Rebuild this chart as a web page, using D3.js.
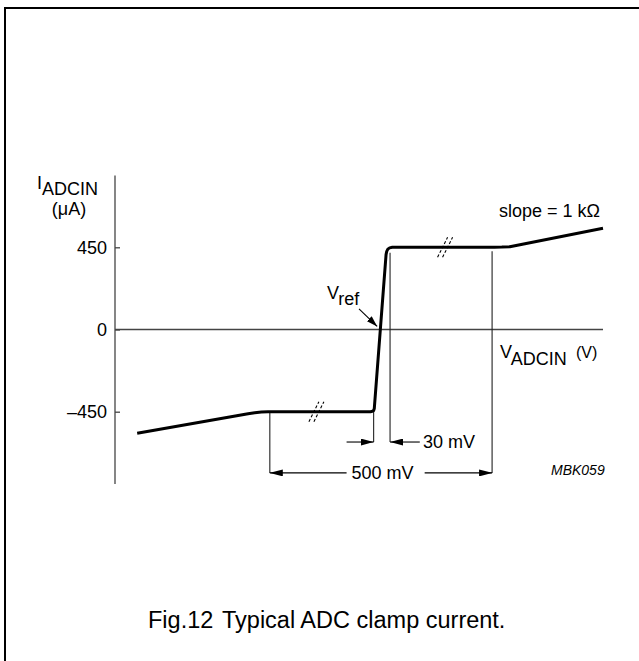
<!DOCTYPE html>
<html>
<head>
<meta charset="utf-8">
<script src="https://cdn.jsdelivr.net/npm/d3@7"></script>
<style>
  html, body { margin: 0; padding: 0; background: #fff; }
  svg { display: block; font-family: "Liberation Sans", Arial, sans-serif; }
</style>
</head>
<body>
<svg id="chart" width="639" height="661"></svg>
<script>
// V_ADCIN in mV relative to Vref, I_ADCIN in uA (schematic curve)
const curveV = [-550, -300, -285, -270, -255, -24, -20, -17, -15.5, 11, 12.5, 15, 19, 25, 255, 272, 290, 500];
const curveI = [-568, -461, -456, -452, -450, -450, -448, -443, -432, 410, 428, 440, 447, 450, 450, 451, 453.5, 554];

const yTickValues = [-450, 0, 450];
const yTickLabels = ['–450', '0', '450'];

// break marks on the flat parts
const breakV = [-146, 144];
const breakI = [-450, 450];

// dimension lines
const dimV = [-251, -17, 20, 250];
const dimTop = [-450, -432, 420, 428];
const dimBottom = [-785, -616, -616, -785];

// dimension arrows [fromV, toV, atI]
const arrowFrom = [-78, 87, -78, 98];
const arrowTo = [-17, 20, -251, 250];
const arrowAt = [-616, -616, -785, -785];

const svg = d3.select('#chart');

const x = d3.scaleLinear().domain([-600, 500]).range([115, 603]);
const y = d3.scaleLinear().domain([-450, 450]).range([411.7, 247.3]);

// frame (only left and top edges fall inside the picture)
svg.append('rect')
    .attr('x', 5).attr('y', 8)
    .attr('width', 700).attr('height', 700)
    .attr('fill', 'none').attr('stroke', '#000').attr('stroke-width', 2);

const defs = svg.append('defs');
defs.append('marker')
    .attr('id', 'dimArrow')
    .attr('markerUnits', 'userSpaceOnUse')
    .attr('markerWidth', 13).attr('markerHeight', 7)
    .attr('refX', 13).attr('refY', 3.5)
    .attr('orient', 'auto')
    .append('path').attr('d', 'M0,0 L13,3.5 L0,7 Z').attr('fill', '#000');
defs.append('marker')
    .attr('id', 'refArrow')
    .attr('markerUnits', 'userSpaceOnUse')
    .attr('markerWidth', 11).attr('markerHeight', 7)
    .attr('refX', 11).attr('refY', 3.5)
    .attr('orient', 'auto')
    .append('path').attr('d', 'M0,0 L11,3.5 L0,7 Z').attr('fill', '#000');

// axes
svg.append('line')
    .attr('x1', x(-600)).attr('x2', x(-600))
    .attr('y1', y(-846)).attr('y2', y(843))
    .attr('stroke', '#444').attr('stroke-width', 1.3);
svg.append('line')
    .attr('x1', x(-600)).attr('x2', x(500))
    .attr('y1', y(0)).attr('y2', y(0))
    .attr('stroke', '#444').attr('stroke-width', 1.3);

const yAxis = d3.axisLeft(y)
    .tickValues(yTickValues)
    .tickFormat((d, i) => yTickLabels[i])
    .tickSizeInner(-5)
    .tickSizeOuter(0)
    .tickPadding(8);

const yg = svg.append('g')
    .attr('transform', `translate(${x(-600)},0)`)
    .call(yAxis);
yg.select('.domain').remove();
yg.selectAll('.tick line').attr('stroke', '#444').attr('stroke-width', 1.3);
yg.selectAll('.tick text')
    .attr('font-size', 18)
    .attr('font-family', '"Liberation Sans", Arial, sans-serif')
    .attr('fill', '#000');

// dimension verticals
svg.append('g').selectAll('line')
    .data(dimV)
    .join('line')
    .attr('x1', d => x(d)).attr('x2', d => x(d))
    .attr('y1', (d, i) => y(dimTop[i]))
    .attr('y2', (d, i) => y(dimBottom[i]))
    .attr('stroke', '#222').attr('stroke-width', 1.1);

// dimension arrows
svg.append('g').selectAll('line')
    .data(arrowFrom)
    .join('line')
    .attr('x1', d => x(d))
    .attr('x2', (d, i) => x(arrowTo[i]))
    .attr('y1', (d, i) => y(arrowAt[i]))
    .attr('y2', (d, i) => y(arrowAt[i]))
    .attr('stroke', '#000').attr('stroke-width', 1.1)
    .attr('marker-end', 'url(#dimArrow)');

// the curve
const pts = curveV.map((v, i) => [v, curveI[i]]);
const line = d3.line()
    .x(d => x(d[0]))
    .y(d => y(d[1]));

svg.append('path')
    .datum(pts)
    .attr('d', line)
    .attr('fill', 'none')
    .attr('stroke', '#000')
    .attr('stroke-width', 3)
    .attr('stroke-linejoin', 'round')
    .attr('stroke-linecap', 'butt');

// break marks "//"
const brk = svg.append('g');
breakV.forEach((v, i) => {
    [-2.5, 2.5].forEach(off => {
        brk.append('line')
            .attr('x1', x(v) + off - 5).attr('y1', y(breakI[i]) + 10)
            .attr('x2', x(v) + off + 5).attr('y2', y(breakI[i]) - 10)
            .attr('stroke', '#000').attr('stroke-width', 1.1)
            .attr('stroke-dasharray', '3,2');
    });
});

// Vref arrow
svg.append('line')
    .attr('x1', x(-50)).attr('y1', y(113))
    .attr('x2', x(-9)).attr('y2', y(17))
    .attr('stroke', '#000').attr('stroke-width', 1.1)
    .attr('marker-end', 'url(#refArrow)');

// texts
const txt = (px, py, size) => svg.append('text')
    .attr('x', px).attr('y', py)
    .attr('font-size', size)
    .attr('fill', '#000');

const iLab = txt(37, 189, 18);
iLab.append('tspan').text('I');
iLab.append('tspan').attr('dy', 6).text('ADCIN');

txt(69, 215, 18).attr('text-anchor', 'middle').text('(μA)');

const vRef = txt(327, 299, 18);
vRef.append('tspan').text('V');
vRef.append('tspan').attr('dy', 6).text('ref');

const vLab = txt(500, 358, 18);
vLab.append('tspan').text('V');
vLab.append('tspan').attr('dy', 7).text('ADCIN');
vLab.append('tspan').attr('x', 576).attr('dy', -7).attr('font-size', 16).text('(V)');

txt(499, 217, 18).text('slope = 1 kΩ');

txt(x(94), y(-616) + 6, 18).text('30 mV');
txt(x(3), y(-785) + 6, 18).attr('text-anchor', 'middle').text('500 mV');

txt(551, 475, 14).attr('font-style', 'italic').text('MBK059');

const cap = txt(148, 628, 23.5);
cap.append('tspan').text('Fig.12');
cap.append('tspan').attr('x', 222).text('Typical ADC clamp current.');
</script>
</body>
</html>
